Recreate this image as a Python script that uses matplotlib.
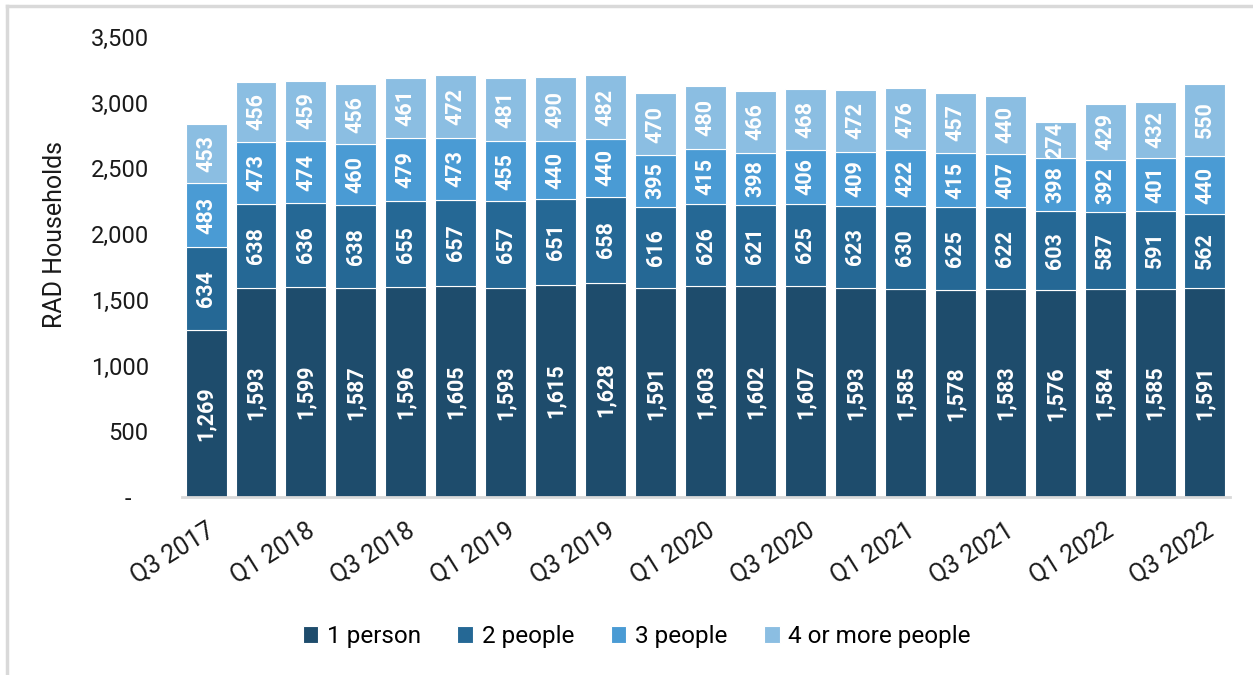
import matplotlib
matplotlib.use("Agg")
import matplotlib.pyplot as plt
from matplotlib.lines import Line2D
from matplotlib.ticker import FuncFormatter
import numpy as np

plt.rcParams['font.family'] = ['Roboto', 'DejaVu Sans']

quarters = ['Q3 2017', 'Q4 2017', 'Q1 2018', 'Q2 2018', 'Q3 2018', 'Q4 2018',
            'Q1 2019', 'Q2 2019', 'Q3 2019', 'Q4 2019', 'Q1 2020', 'Q2 2020',
            'Q3 2020', 'Q4 2020', 'Q1 2021', 'Q2 2021', 'Q3 2021', 'Q4 2021',
            'Q1 2022', 'Q2 2022', 'Q3 2022']

one_person = [1269, 1593, 1599, 1587, 1596, 1605, 1593, 1615, 1628, 1591, 1603,
              1602, 1607, 1593, 1585, 1578, 1583, 1576, 1584, 1585, 1591]
two_people = [634, 638, 636, 638, 655, 657, 657, 651, 658, 616, 626,
              621, 625, 623, 630, 625, 622, 603, 587, 591, 562]
three_people = [483, 473, 474, 460, 479, 473, 455, 440, 440, 395, 415,
                398, 406, 409, 422, 415, 407, 398, 392, 401, 440]
four_plus = [453, 456, 459, 456, 461, 472, 481, 490, 482, 470, 480,
             466, 468, 472, 476, 457, 440, 274, 429, 432, 550]

series = [
    ('1 person', one_person, '#1E4C6C'),
    ('2 people', two_people, '#256895'),
    ('3 people', three_people, '#4A9BD4'),
    ('4 or more people', four_plus, '#8BBEE2'),
]

fig = plt.figure(figsize=(12.53, 6.75), dpi=100)
ax = fig.add_axes([0.1453, 0.2637, 0.8363, 0.6815])

x = np.arange(len(quarters))
bottom = np.zeros(len(quarters))
for name, vals, color in series:
    vals = np.array(vals, dtype=float)
    ax.bar(x, vals, width=0.82, bottom=bottom, color=color,
           edgecolor='white', linewidth=0.8, label=name)
    for xi, b, v in zip(x, bottom, vals):
        ax.text(xi, b + v / 2, f'{int(v):,}', rotation=90, ha='center',
                va='center', color='white', fontsize=15.5, fontweight='bold')
    bottom += vals

ax.set_xlim(-0.48, 20.5)
ax.set_ylim(0, 3500)
ax.set_yticks(np.arange(0, 3501, 500))
ax.yaxis.set_major_formatter(FuncFormatter(
    lambda v, p: '-   ' if v == 0 else f'{v:,.0f}'))
ax.set_xticks(x[::2])
ax.set_xticklabels(quarters[::2], rotation=32, ha='right',
                   rotation_mode='anchor')
ax.tick_params(axis='y', length=0, pad=24, labelsize=17, labelcolor='#1a1a1a')
ax.tick_params(axis='x', length=0, pad=15, labelsize=18, labelcolor='#1a1a1a')

for side in ['top', 'right', 'left']:
    ax.spines[side].set_visible(False)
ax.spines['bottom'].set_color('#D9D9D9')
ax.spines['bottom'].set_linewidth(2)

ax.set_ylabel('RAD Households', fontsize=18, color='#1a1a1a')
ax.yaxis.set_label_coords(-0.11, 0.57)

ax.legend(loc='center', bbox_to_anchor=(0.508, 0.057),
          bbox_transform=fig.transFigure, ncol=4, frameon=False,
          fontsize=17.5, handlelength=0.65, handleheight=0.65,
          handletextpad=0.35, columnspacing=1.5)

# light frame along the top and left edges
fig.add_artist(Line2D([0.0056, 1.0], [0.991, 0.991], color='#D9D9D9',
                      lw=2.5, transform=fig.transFigure))
fig.add_artist(Line2D([0.0056, 0.0056], [0.0, 0.991], color='#D9D9D9',
                      lw=2.5, transform=fig.transFigure))

fig.savefig('out.png', dpi=100, facecolor='white')
